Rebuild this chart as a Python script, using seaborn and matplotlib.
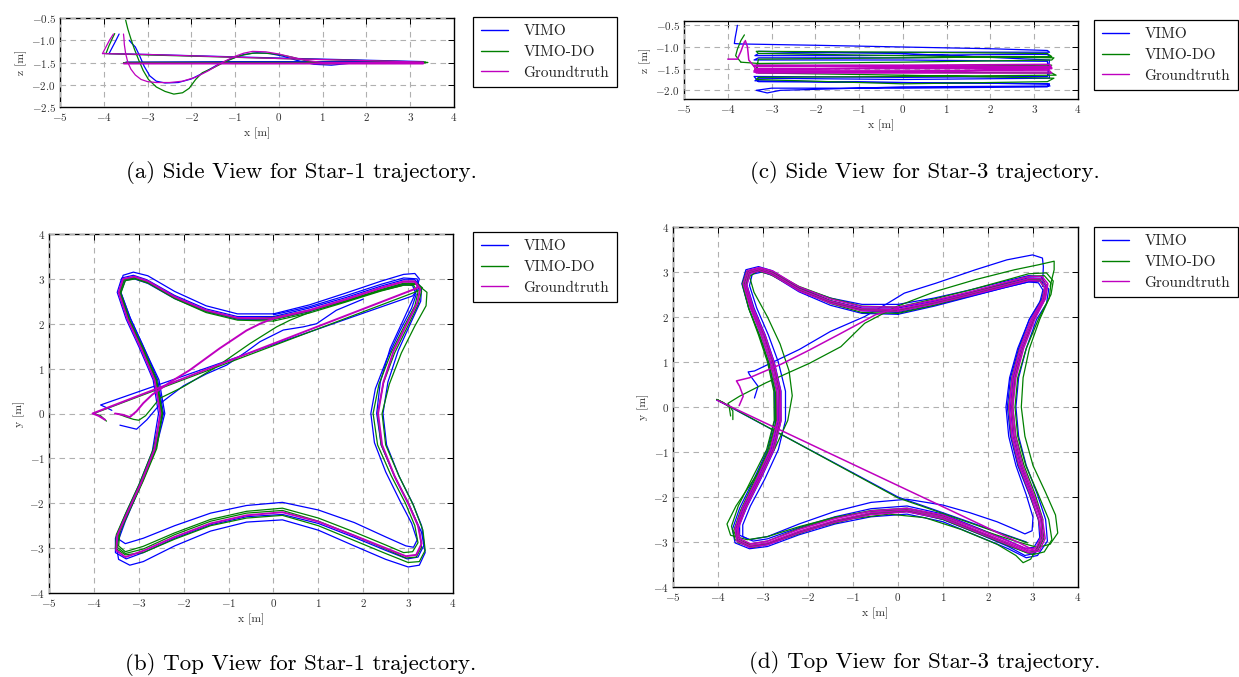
import matplotlib
matplotlib.use("Agg")
import matplotlib.pyplot as plt
from matplotlib.lines import Line2D
import pandas as pd
import seaborn as sns

SERIES = ["VIMO", "VIMO-DO", "Groundtruth"]
COLORS = {"VIMO": "#0000ff", "VIMO-DO": "#008000", "Groundtruth": "#bf00bf"}

# ---------------------------------------------------------------- Star-1, side view (x, z)
s1_side_vimo = [
    [(-3.42, -1.0), (-3.35, -1.08), (-3.28, -1.15), (-3.18, -1.35), (-3.08, -1.58), (-2.95, -1.8), (-2.8, -1.92),
     (-2.6, -1.96), (-2.3, -1.95), (-2.0, -1.87), (-1.7, -1.72), (-1.4, -1.55), (-1.1, -1.42), (-0.8, -1.32),
     (-0.5, -1.28), (-0.2, -1.3), (0.1, -1.36), (0.4, -1.45), (0.8, -1.54), (1.2, -1.56), (1.6, -1.52), (2.2, -1.5), (3.3, -1.5)],
    [(3.3, -1.5), (-3.5, -1.5), (3.3, -1.49), (-3.5, -1.5), (3.25, -1.49)],
    [(3.3, -1.48), (0.0, -1.4), (-3.0, -1.32), (-3.88, -1.3)],
    [(-3.88, -1.3), (-3.8, -1.15), (-3.72, -1.0), (-3.65, -0.86)],
]
s1_side_vimo_do = [
    [(-3.5, -0.55), (-3.45, -0.75), (-3.38, -0.97), (-3.3, -1.2), (-3.2, -1.45), (-3.1, -1.68), (-2.98, -1.88),
     (-2.8, -2.05), (-2.6, -2.15), (-2.4, -2.21), (-2.2, -2.18), (-2.05, -2.08), (-1.9, -1.88), (-1.75, -1.73),
     (-1.5, -1.62), (-1.2, -1.47), (-0.9, -1.35), (-0.6, -1.29), (-0.3, -1.29), (0.0, -1.32), (0.3, -1.38),
     (0.7, -1.48), (1.0, -1.53), (1.5, -1.52), (2.2, -1.5), (3.4, -1.5)],
    [(3.4, -1.5), (-3.55, -1.51), (3.35, -1.5), (-3.5, -1.5), (3.3, -1.5)],
    [(3.35, -1.49), (0.0, -1.41), (-3.0, -1.33), (-3.95, -1.3)],
    [(-3.95, -1.3), (-3.88, -1.12), (-3.8, -0.95), (-3.75, -0.85)],
]
s1_side_gt = [
    [(-3.55, -0.86), (-3.54, -0.95), (-3.53, -1.1), (-3.5, -1.3), (-3.45, -1.5), (-3.38, -1.65), (-3.28, -1.78),
     (-3.15, -1.88), (-3.0, -1.93), (-2.8, -1.95), (-2.5, -1.95), (-2.2, -1.92), (-1.9, -1.83), (-1.6, -1.68),
     (-1.3, -1.5), (-1.0, -1.36), (-0.8, -1.29), (-0.6, -1.25), (-0.3, -1.26), (0.0, -1.31), (0.3, -1.38),
     (0.6, -1.45), (1.0, -1.5), (3.3, -1.5)],
    [(3.3, -1.5), (-3.55, -1.5), (3.3, -1.5), (-3.55, -1.5), (3.3, -1.5)],
    [(3.3, -1.49), (0.0, -1.41), (-3.0, -1.32), (-4.03, -1.3)],
    [(-4.03, -1.3), (-3.95, -1.15), (-3.87, -1.0), (-3.78, -0.86)],
]

# ---------------------------------------------------------------- Star-3, side view (x, z)
s3_side_vimo = [
    [(-3.78, -0.5), (-3.8, -0.62), (-3.83, -0.78), (-3.85, -0.92), (-3.7, -0.93)],
    [(-3.7, -0.93), (-2.0, -0.96), (0.0, -1.0), (2.0, -1.04), (3.3, -1.08), (3.35, -1.12), (1.0, -1.12),
     (-1.5, -1.13), (-3.3, -1.15), (-3.38, -1.2), (-1.0, -1.2), (1.5, -1.18), (3.3, -1.17), (3.36, -1.22),
     (0.0, -1.25), (-3.3, -1.25), (-3.4, -1.3), (0.0, -1.3), (3.3, -1.33), (3.35, -1.72), (0.0, -1.75),
     (-3.3, -1.72), (-3.38, -1.78), (0.0, -1.82), (3.3, -1.85), (3.36, -1.9), (0.0, -1.92), (-2.8, -2.0),
     (-3.1, -2.06), (-3.35, -2.0), (-3.0, -1.95), (0.0, -1.95), (3.3, -1.92), (3.35, -1.85), (0.0, -1.82),
     (-3.3, -1.8), (-3.4, -1.68), (0.0, -1.7), (3.3, -1.68), (3.35, -1.3), (0.0, -1.15), (-3.3, -1.1)],
]
s3_side_vimo_do = [
    [(-3.62, -0.72), (-3.7, -0.85), (-3.78, -1.05), (-3.82, -1.2), (-3.7, -1.35)],
    [(-3.7, -1.35), (-3.3, -1.38), (0.0, -1.35), (3.4, -1.3), (3.45, -1.25), (0.0, -1.2), (-3.3, -1.15),
     (-3.35, -1.1), (0.0, -1.12), (3.3, -1.15), (3.4, -1.22), (0.0, -1.25), (-3.3, -1.28), (-3.35, -1.55),
     (0.0, -1.58), (3.4, -1.6), (3.5, -1.65), (0.0, -1.68), (-3.3, -1.7), (-3.35, -1.75), (-1.0, -1.82),
     (0.0, -1.85), (3.3, -1.8), (3.45, -1.72), (0.0, -1.65), (-3.3, -1.6), (-3.35, -1.42), (0.0, -1.45), (3.4, -1.42)],
]
s3_side_gt = [
    [(-4.0, -1.28), (-3.78, -1.28), (-3.7, -1.1), (-3.62, -0.88)],
    [(-3.6, -0.85), (-3.55, -1.0), (-3.52, -1.3), (-3.4, -1.45)],
    [(-3.4, -1.45), (0.0, -1.45), (3.35, -1.45), (3.4, -1.5), (0.0, -1.5), (-3.35, -1.5), (-3.4, -1.55),
     (0.0, -1.55), (3.35, -1.55), (3.4, -1.6), (0.0, -1.6), (-3.35, -1.6), (-3.4, -1.42), (0.0, -1.42),
     (3.35, -1.4), (3.4, -1.48), (0.0, -1.48), (-3.35, -1.52), (-3.4, -1.58), (0.0, -1.58), (3.35, -1.5)],
]

# ---------------------------------------------------------------- Star-1, top view (x, y)
s1_top_gt_takeoff = [(-3.53, 0.0), (-3.35, -0.03), (-3.2, -0.08), (-3.05, 0.05), (-2.9, 0.23), (-2.7, 0.42),
                     (-2.3, 0.7), (-1.86, 0.97), (-1.2, 1.45), (-0.6, 1.85), (-0.3, 2.0), (0.0, 2.12)]
s1_top_gt_lap = [
    (0.0, 2.12), (0.8, 2.3), (1.6, 2.54), (2.4, 2.8), (2.9, 2.94), (3.15, 2.94), (3.27, 2.78), (3.2, 2.45),
    (2.95, 1.95), (2.68, 1.4), (2.45, 0.7), (2.33, 0.0), (2.42, -0.7), (2.7, -1.4), (3.0, -2.0), (3.22, -2.5),
    (3.3, -2.9), (3.18, -3.15), (2.95, -3.18), (2.5, -3.0), (1.8, -2.72), (1.0, -2.41), (0.2, -2.2), (-0.6, -2.27),
    (-1.4, -2.45), (-2.2, -2.75), (-2.9, -3.06), (-3.3, -3.2), (-3.5, -3.05), (-3.48, -2.72), (-3.25, -2.2),
    (-2.95, -1.55), (-2.65, -0.8), (-2.52, 0.0), (-2.65, 0.75), (-2.95, 1.45), (-3.25, 2.1), (-3.45, 2.7),
    (-3.35, 3.0), (-3.1, 3.05), (-2.8, 2.95), (-2.2, 2.6), (-1.5, 2.3), (-0.8, 2.13), (0.0, 2.12)]
s1_top_gt_return = [(0.0, 2.12), (0.8, 2.3), (1.6, 2.54), (2.4, 2.8), (2.9, 2.94), (3.15, 2.94), (3.22, 2.82),
                    (3.19, 2.79), (-4.03, 0.0), (-3.9, -0.05), (-3.75, -0.14)]

s1_top_vimo_takeoff = [(-3.42, -0.26), (-3.05, -0.35), (-2.82, -0.14), (-2.6, 0.12), (-2.45, 0.28), (-2.0, 0.62),
                       (-1.5, 0.88), (-1.04, 1.08), (-0.6, 1.38), (-0.3, 1.6), (0.22, 1.86), (0.66, 1.93),
                       (0.96, 2.0), (1.4, 2.3), (2.0, 2.55)]
s1_top_vimo_lap1 = [
    (0.0, 2.22), (0.8, 2.42), (1.6, 2.68), (2.4, 2.95), (2.9, 3.1), (3.15, 3.12), (3.25, 3.0), (3.15, 2.65),
    (2.9, 2.1), (2.6, 1.45), (2.38, 0.7), (2.3, 0.0), (2.4, -0.7), (2.72, -1.45), (3.05, -2.1), (3.3, -2.65),
    (3.38, -3.1), (3.25, -3.38), (3.0, -3.42), (2.5, -3.25), (1.8, -2.95), (1.0, -2.6), (0.2, -2.37), (-0.6, -2.42),
    (-1.4, -2.62), (-2.2, -2.95), (-2.9, -3.3), (-3.2, -3.38), (-3.45, -3.25), (-3.5, -2.95), (-3.3, -2.4),
    (-3.0, -1.7), (-2.65, -0.85), (-2.45, 0.0), (-2.58, 0.75), (-2.9, 1.5), (-3.2, 2.15), (-3.42, 2.75),
    (-3.35, 3.08), (-3.12, 3.15), (-2.8, 3.07), (-2.2, 2.72), (-1.5, 2.4), (-0.8, 2.22), (0.0, 2.22)]
s1_top_vimo_lap2 = [
    (0.0, 2.1), (0.8, 2.27), (1.6, 2.5), (2.4, 2.75), (2.9, 2.88), (3.1, 2.85), (3.18, 2.65), (3.08, 2.35),
    (2.82, 1.85), (2.52, 1.2), (2.27, 0.55), (2.17, 0.0), (2.25, -0.65), (2.5, -1.3), (2.82, -1.95), (3.08, -2.45),
    (3.2, -2.82), (3.12, -2.98), (2.95, -2.95), (2.5, -2.75), (1.8, -2.43), (1.0, -2.15), (0.2, -1.98), (-0.6, -2.05),
    (-1.4, -2.22), (-2.2, -2.5), (-2.9, -2.78), (-3.3, -2.9), (-3.45, -2.8), (-3.38, -2.5), (-3.15, -2.0),
    (-2.88, -1.4), (-2.6, -0.7), (-2.42, 0.0), (-2.55, 0.75), (-2.88, 1.45), (-3.18, 2.1), (-3.4, 2.7),
    (-3.3, 2.97), (-3.1, 3.0), (-2.8, 2.9), (-2.2, 2.56), (-1.5, 2.27), (-0.8, 2.1), (0.0, 2.1)]
s1_top_vimo_lap3 = [
    (0.0, 2.16), (0.8, 2.35), (1.6, 2.58), (2.4, 2.84), (2.9, 2.98), (3.15, 2.98), (3.3, 2.8), (3.28, 2.5),
    (3.05, 2.0), (2.78, 1.4), (2.55, 0.7), (2.44, 0.0), (2.52, -0.7), (2.8, -1.4), (3.1, -2.0), (3.3, -2.5),
    (3.36, -2.92), (3.22, -3.2), (2.98, -3.24), (2.5, -3.05), (1.8, -2.76), (1.0, -2.45), (0.2, -2.25), (-0.6, -2.3),
    (-1.4, -2.48), (-2.2, -2.78), (-2.9, -3.1), (-3.28, -3.24), (-3.52, -3.1), (-3.52, -2.78), (-3.3, -2.25),
    (-3.0, -1.6), (-2.7, -0.85), (-2.56, 0.0), (-2.68, 0.75), (-2.98, 1.45), (-3.28, 2.1), (-3.48, 2.7),
    (-3.38, 3.02), (-3.12, 3.08), (-2.82, 2.98), (-2.2, 2.63), (-1.5, 2.33), (-0.8, 2.16), (0.0, 2.16)]
s1_top_vimo_return = [(0.0, 2.2), (0.8, 2.38), (1.6, 2.62), (2.4, 2.88), (2.9, 3.02), (3.2, 3.0), (3.25, 2.8),
                      (3.1, 2.62), (-3.85, 0.19), (-3.72, 0.13), (-3.6, 0.07)]

s1_top_vimo_do_takeoff = [(-3.48, 0.0), (-3.3, -0.07), (-3.12, -0.13), (-3.0, -0.15), (-2.85, -0.05), (-2.71, 0.12),
                          (-2.53, 0.34), (-2.2, 0.5), (-2.0, 0.6), (-1.27, 1.04), (-0.52, 1.56), (0.07, 1.93),
                          (0.37, 2.08), (0.8, 2.25)]
s1_top_vimo_do_lap1 = [
    (0.0, 2.06), (0.8, 2.24), (1.6, 2.48), (2.4, 2.73), (2.9, 2.86), (3.12, 2.86), (3.22, 2.7), (3.15, 2.4),
    (2.9, 1.92), (2.62, 1.35), (2.35, 0.65), (2.22, 0.0), (2.32, -0.7), (2.62, -1.38), (2.94, -2.0), (3.15, -2.5),
    (3.22, -2.88), (3.1, -3.08), (2.9, -3.1), (2.5, -2.93), (1.8, -2.64), (1.0, -2.33), (0.2, -2.11), (-0.6, -2.18),
    (-1.4, -2.36), (-2.2, -2.66), (-2.9, -2.96), (-3.3, -3.08), (-3.45, -2.95), (-3.42, -2.65), (-3.2, -2.15),
    (-2.9, -1.5), (-2.6, -0.78), (-2.47, 0.0), (-2.6, 0.75), (-2.9, 1.45), (-3.2, 2.08), (-3.4, 2.68),
    (-3.3, 2.96), (-3.08, 3.0), (-2.78, 2.9), (-2.2, 2.56), (-1.5, 2.25), (-0.8, 2.08), (0.0, 2.06)]
s1_top_vimo_do_lap2 = [
    (0.0, 2.14), (0.8, 2.3), (1.6, 2.52), (2.4, 2.74), (2.9, 2.86), (3.2, 2.88), (3.42, 2.7), (3.4, 2.4),
    (3.15, 1.95), (2.85, 1.35), (2.58, 0.65), (2.42, 0.0), (2.5, -0.7), (2.8, -1.4), (3.12, -2.05), (3.33, -2.6),
    (3.38, -3.05), (3.25, -3.3), (3.0, -3.32), (2.5, -3.12), (1.8, -2.83), (1.0, -2.5), (0.2, -2.27), (-0.6, -2.33),
    (-1.4, -2.5), (-2.2, -2.8), (-2.9, -3.1), (-3.3, -3.15), (-3.52, -3.0), (-3.5, -2.7), (-3.28, -2.2),
    (-2.98, -1.55), (-2.68, -0.8), (-2.5, 0.0), (-2.62, 0.75), (-2.92, 1.45), (-3.22, 2.08), (-3.43, 2.68),
    (-3.33, 2.98), (-3.1, 3.02), (-2.8, 2.92), (-2.2, 2.58), (-1.5, 2.28), (-0.8, 2.12), (0.0, 2.14)]
s1_top_vimo_do_lap3 = [
    (0.0, 2.1), (0.8, 2.28), (1.6, 2.5), (2.4, 2.76), (2.9, 2.9), (3.18, 2.9), (3.3, 2.72), (3.22, 2.42),
    (2.98, 1.92), (2.7, 1.35), (2.45, 0.68), (2.32, 0.0), (2.4, -0.7), (2.7, -1.4), (3.02, -2.02), (3.24, -2.55),
    (3.3, -2.98), (3.18, -3.2), (2.95, -3.22), (2.5, -3.02), (1.8, -2.72), (1.0, -2.4), (0.2, -2.16), (-0.6, -2.22),
    (-1.4, -2.4), (-2.2, -2.7), (-2.9, -3.02), (-3.3, -3.12), (-3.48, -2.98), (-3.45, -2.68), (-3.22, -2.18),
    (-2.92, -1.52), (-2.62, -0.78), (-2.48, 0.0), (-2.62, 0.75), (-2.92, 1.45), (-3.22, 2.1), (-3.42, 2.7),
    (-3.32, 3.0), (-3.08, 3.04), (-2.8, 2.94), (-2.2, 2.6), (-1.5, 2.28), (-0.8, 2.12), (0.0, 2.1)]
s1_top_vimo_do_return = [(0.0, 2.1), (0.8, 2.28), (1.6, 2.5), (2.4, 2.76), (2.9, 2.9), (3.2, 2.9), (3.32, 2.8),
                         (3.25, 2.74), (-4.0, 0.0), (-3.85, -0.05), (-3.72, -0.17)]

# ---------------------------------------------------------------- Star-3, top view (x, y)
s3_top_gt_takeoff = [(-3.53, 0.03), (-3.44, 0.24), (-3.52, 0.46), (-3.59, 0.58), (-3.3, 0.65), (-2.6, 0.95),
                     (-2.0, 1.25), (-1.3, 1.62), (-0.5, 2.05), (0.0, 2.2)]
s3_top_gt_lap1 = [
    (0.0, 2.17), (0.8, 2.33), (1.6, 2.52), (2.4, 2.72), (2.9, 2.85), (3.18, 2.85), (3.3, 2.7), (3.25, 2.4),
    (3.0, 1.95), (2.75, 1.3), (2.58, 0.65), (2.51, 0.0), (2.57, -0.65), (2.73, -1.3), (2.98, -1.95), (3.17, -2.5),
    (3.22, -2.9), (3.1, -3.17), (2.9, -3.2), (2.45, -3.02), (1.8, -2.76), (1.0, -2.44), (0.2, -2.29), (-0.6, -2.35),
    (-1.4, -2.52), (-2.2, -2.76), (-2.9, -3.02), (-3.3, -3.08), (-3.55, -2.95), (-3.58, -2.7), (-3.42, -2.25),
    (-3.1, -1.6), (-2.8, -0.95), (-2.64, -0.3), (-2.65, 0.35), (-2.8, 1.0), (-3.0, 1.6), (-3.25, 2.2),
    (-3.4, 2.72), (-3.32, 3.0), (-3.08, 3.07), (-2.8, 2.98), (-2.2, 2.62), (-1.5, 2.35), (-0.8, 2.18), (0.0, 2.17)]
s3_top_gt_lap2 = [
    (0.0, 2.22), (0.8, 2.37), (1.6, 2.56), (2.4, 2.77), (2.9, 2.9), (3.2, 2.9), (3.33, 2.74), (3.28, 2.42),
    (3.04, 1.95), (2.79, 1.3), (2.62, 0.65), (2.55, 0.0), (2.61, -0.65), (2.77, -1.3), (3.02, -1.95), (3.21, -2.5),
    (3.27, -2.92), (3.14, -3.2), (2.92, -3.24), (2.45, -3.06), (1.8, -2.8), (1.0, -2.48), (0.2, -2.33), (-0.6, -2.39),
    (-1.4, -2.56), (-2.2, -2.8), (-2.9, -3.06), (-3.3, -3.12), (-3.58, -2.98), (-3.62, -2.7), (-3.46, -2.25),
    (-3.14, -1.6), (-2.84, -0.95), (-2.68, -0.3), (-2.69, 0.35), (-2.84, 1.0), (-3.04, 1.6), (-3.28, 2.2),
    (-3.44, 2.74), (-3.35, 3.03), (-3.08, 3.1), (-2.78, 3.02), (-2.2, 2.67), (-1.5, 2.4), (-0.8, 2.23), (0.0, 2.22)]
s3_top_gt_lap3 = [
    (0.0, 2.13), (0.8, 2.29), (1.6, 2.48), (2.4, 2.68), (2.9, 2.81), (3.15, 2.8), (3.26, 2.66), (3.21, 2.38),
    (2.96, 1.95), (2.71, 1.3), (2.54, 0.65), (2.47, 0.0), (2.53, -0.65), (2.69, -1.3), (2.94, -1.95), (3.13, -2.5),
    (3.18, -2.88), (3.07, -3.13), (2.88, -3.16), (2.45, -2.98), (1.8, -2.72), (1.0, -2.4), (0.2, -2.25), (-0.6, -2.31),
    (-1.4, -2.48), (-2.2, -2.72), (-2.9, -2.98), (-3.28, -3.04), (-3.52, -2.92), (-3.55, -2.7), (-3.38, -2.25),
    (-3.06, -1.6), (-2.76, -0.95), (-2.6, -0.3), (-2.61, 0.35), (-2.76, 1.0), (-2.96, 1.6), (-3.22, 2.2),
    (-3.36, 2.7), (-3.29, 2.97), (-3.08, 3.03), (-2.82, 2.95), (-2.2, 2.58), (-1.5, 2.31), (-0.8, 2.14), (0.0, 2.13)]
s3_top_gt_return = [(3.05, -3.2), (2.7, -3.02), (-4.02, 0.15)]

s3_top_vimo_takeoff = [(-3.19, 0.2), (-3.11, 0.46), (-3.3, 0.72), (-3.33, 0.78), (-3.19, 0.8), (-2.19, 1.28),
                       (-1.5, 1.68), (-0.74, 2.01), (-0.22, 2.31), (0.14, 2.53), (0.84, 2.75), (1.72, 3.05),
                       (2.42, 3.27), (2.99, 3.38), (3.21, 3.31), (3.23, 3.12), (3.21, 2.68)]
s3_top_vimo_lap1 = [
    (0.0, 2.28), (0.8, 2.42), (1.6, 2.6), (2.4, 2.8), (2.9, 2.92), (3.18, 2.9), (3.28, 2.72), (3.2, 2.42),
    (2.92, 1.95), (2.66, 1.3), (2.48, 0.65), (2.4, 0.0), (2.46, -0.65), (2.62, -1.3), (2.85, -1.95), (3.0, -2.45),
    (2.98, -2.75), (2.82, -2.82), (2.6, -2.72), (2.2, -2.55), (1.6, -2.35), (1.0, -2.18), (0.2, -2.05), (-0.6, -2.12),
    (-1.4, -2.32), (-2.2, -2.6), (-2.9, -2.88), (-3.3, -2.95), (-3.52, -2.85), (-3.52, -2.6), (-3.35, -2.2),
    (-3.05, -1.6), (-2.75, -0.95), (-2.6, -0.3), (-2.6, 0.35), (-2.75, 1.0), (-2.95, 1.6), (-3.2, 2.2),
    (-3.36, 2.72), (-3.28, 2.98), (-3.05, 3.03), (-2.78, 2.95), (-2.2, 2.66), (-1.5, 2.42), (-0.8, 2.28), (0.0, 2.28)]
s3_top_vimo_lap2 = [
    (0.0, 2.1), (0.8, 2.26), (1.6, 2.46), (2.4, 2.66), (2.9, 2.78), (3.2, 2.8), (3.35, 2.62), (3.3, 2.3),
    (3.08, 1.95), (2.85, 1.3), (2.68, 0.65), (2.62, 0.0), (2.68, -0.65), (2.85, -1.3), (3.1, -1.95), (3.28, -2.5),
    (3.32, -2.98), (3.1, -3.3), (2.85, -3.35), (2.45, -3.15), (1.8, -2.88), (1.0, -2.55), (0.2, -2.38), (-0.6, -2.44),
    (-1.4, -2.6), (-2.2, -2.84), (-2.9, -3.1), (-3.3, -3.15), (-3.62, -3.02), (-3.68, -2.72), (-3.52, -2.25),
    (-3.2, -1.6), (-2.9, -0.95), (-2.74, -0.3), (-2.74, 0.35), (-2.88, 1.0), (-3.08, 1.6), (-3.32, 2.2),
    (-3.47, 2.74), (-3.38, 3.05), (-3.1, 3.12), (-2.8, 3.03), (-2.2, 2.66), (-1.5, 2.36), (-0.8, 2.14), (0.0, 2.1)]
s3_top_vimo_lap3 = [
    (0.0, 2.06), (0.8, 2.24), (1.6, 2.45), (2.4, 2.66), (2.9, 2.78), (3.12, 2.76), (3.22, 2.6), (3.15, 2.32),
    (2.92, 1.95), (2.68, 1.3), (2.5, 0.65), (2.43, 0.0), (2.5, -0.65), (2.66, -1.3), (2.92, -1.95), (3.12, -2.5),
    (3.15, -2.9), (3.02, -3.12), (2.82, -3.14), (2.4, -2.95), (1.8, -2.7), (1.0, -2.38), (0.2, -2.2), (-0.6, -2.26),
    (-1.4, -2.44), (-2.2, -2.68), (-2.9, -2.93), (-3.22, -2.98), (-3.45, -2.88), (-3.45, -2.62), (-3.28, -2.2),
    (-2.96, -1.6), (-2.66, -0.95), (-2.5, -0.3), (-2.5, 0.35), (-2.66, 1.0), (-2.88, 1.6), (-3.14, 2.2),
    (-3.3, 2.7), (-3.24, 2.95), (-3.02, 3.0), (-2.78, 2.92), (-2.2, 2.56), (-1.5, 2.26), (-0.8, 2.08), (0.0, 2.06)]
s3_top_vimo_lap4 = [
    (0.0, 2.2), (0.8, 2.35), (1.6, 2.54), (2.4, 2.74), (2.9, 2.87), (3.2, 2.86), (3.3, 2.68), (3.24, 2.4),
    (3.0, 1.95), (2.74, 1.3), (2.56, 0.65), (2.5, 0.0), (2.56, -0.65), (2.72, -1.3), (2.97, -1.95), (3.18, -2.5),
    (3.2, -2.95), (3.05, -3.25), (2.82, -3.3), (2.45, -3.1), (1.8, -2.82), (1.0, -2.5), (0.2, -2.32), (-0.6, -2.38),
    (-1.4, -2.56), (-2.2, -2.8), (-2.9, -3.06), (-3.28, -3.12), (-3.56, -2.98), (-3.6, -2.7), (-3.44, -2.25),
    (-3.12, -1.6), (-2.82, -0.95), (-2.66, -0.3), (-2.66, 0.35), (-2.8, 1.0), (-3.0, 1.6), (-3.25, 2.2),
    (-3.4, 2.72), (-3.31, 3.0), (-3.06, 3.06), (-2.8, 2.97), (-2.2, 2.62), (-1.5, 2.36), (-0.8, 2.2), (0.0, 2.2)]
s3_top_vimo_return = [(2.85, -3.0), (0.0, -2.0), (-4.03, 0.16), (-3.9, 0.1), (-3.8, 0.05)]

s3_top_vimo_do_takeoff = [(-3.67, -0.28), (-3.67, -0.09), (-3.78, 0.08), (-3.52, 0.24), (-2.93, 0.54),
                          (-1.97, 0.97), (-1.27, 1.34), (-0.74, 1.86), (-0.04, 2.23), (0.84, 2.57), (1.72, 2.83),
                          (2.59, 3.05), (3.12, 3.16), (3.47, 3.24), (3.47, 3.05), (3.38, 2.68)]
s3_top_vimo_do_lap1 = [
    (0.0, 2.12), (0.8, 2.3), (1.6, 2.5), (2.4, 2.72), (2.9, 2.84), (3.2, 2.84), (3.32, 2.68), (3.26, 2.38),
    (3.02, 1.95), (2.76, 1.3), (2.58, 0.65), (2.52, 0.0), (2.58, -0.65), (2.74, -1.3), (2.99, -1.95), (3.19, -2.5),
    (3.24, -2.92), (3.1, -3.2), (2.88, -3.24), (2.45, -3.05), (1.8, -2.78), (1.0, -2.45), (0.2, -2.28), (-0.6, -2.32),
    (-1.4, -2.45), (-2.2, -2.66), (-2.9, -2.88), (-3.35, -2.95), (-3.72, -2.85), (-3.8, -2.6), (-3.6, -2.2),
    (-3.2, -1.6), (-2.75, -0.95), (-2.45, -0.3), (-2.35, 0.25), (-2.42, 0.8), (-2.62, 1.4), (-2.9, 2.0),
    (-3.2, 2.55), (-3.3, 2.9), (-3.12, 3.02), (-2.85, 2.95), (-2.2, 2.6), (-1.5, 2.32), (-0.8, 2.15), (0.0, 2.12)]
s3_top_vimo_do_lap2 = [
    (0.0, 2.15), (0.8, 2.32), (1.6, 2.53), (2.4, 2.76), (2.9, 2.9), (3.25, 2.92), (3.4, 2.75), (3.36, 2.42),
    (3.15, 1.95), (2.92, 1.3), (2.78, 0.65), (2.74, 0.0), (2.82, -0.65), (3.0, -1.3), (3.28, -1.9), (3.5, -2.4),
    (3.55, -2.8), (3.38, -3.05), (3.1, -3.12), (2.6, -2.98), (1.9, -2.75), (1.0, -2.42), (0.2, -2.25), (-0.6, -2.3),
    (-1.4, -2.46), (-2.2, -2.7), (-2.9, -2.98), (-3.3, -3.05), (-3.58, -2.94), (-3.62, -2.68), (-3.46, -2.25),
    (-3.15, -1.6), (-2.86, -0.95), (-2.7, -0.3), (-2.7, 0.35), (-2.84, 1.0), (-3.04, 1.6), (-3.27, 2.2),
    (-3.42, 2.72), (-3.33, 3.0), (-3.08, 3.06), (-2.8, 2.98), (-2.2, 2.64), (-1.5, 2.36), (-0.8, 2.18), (0.0, 2.15)]
s3_top_vimo_do_lap3 = [
    (0.0, 2.08), (0.8, 2.26), (1.6, 2.48), (2.4, 2.7), (2.9, 2.82), (3.15, 2.8), (3.28, 2.62), (3.22, 2.32),
    (3.0, 1.95), (2.76, 1.3), (2.6, 0.65), (2.55, 0.0), (2.62, -0.65), (2.8, -1.3), (3.05, -1.95), (3.22, -2.5),
    (3.15, -3.0), (2.95, -3.38), (2.78, -3.46), (2.62, -3.3), (2.2, -3.05), (1.4, -2.72), (0.6, -2.46), (-0.2, -2.38),
    (-1.0, -2.48), (-1.8, -2.68), (-2.6, -2.95), (-3.2, -3.12), (-3.55, -3.02), (-3.65, -2.75), (-3.5, -2.3),
    (-3.2, -1.65), (-2.9, -1.0), (-2.72, -0.35), (-2.72, 0.3), (-2.86, 0.95), (-3.06, 1.55), (-3.3, 2.15),
    (-3.45, 2.7), (-3.36, 3.0), (-3.1, 3.07), (-2.82, 2.98), (-2.2, 2.6), (-1.5, 2.3), (-0.8, 2.1), (0.0, 2.08)]
s3_top_vimo_do_lap4 = [
    (0.0, 2.22), (0.8, 2.4), (1.6, 2.6), (2.4, 2.82), (2.9, 2.96), (3.3, 2.98), (3.45, 2.8), (3.4, 2.5),
    (3.12, 1.95), (2.85, 1.3), (2.66, 0.65), (2.6, 0.0), (2.66, -0.65), (2.84, -1.3), (3.12, -1.95), (3.35, -2.5),
    (3.42, -2.95), (3.25, -3.22), (3.0, -3.28), (2.5, -3.1), (1.8, -2.82), (1.0, -2.5), (0.2, -2.3), (-0.6, -2.36),
    (-1.4, -2.54), (-2.2, -2.78), (-2.9, -3.04), (-3.3, -3.1), (-3.62, -2.95), (-3.7, -2.65), (-3.55, -2.2),
    (-3.25, -1.6), (-2.92, -0.95), (-2.75, -0.3), (-2.76, 0.35), (-2.9, 1.0), (-3.1, 1.6), (-3.32, 2.2),
    (-3.46, 2.74), (-3.36, 3.02), (-3.1, 3.08), (-2.8, 3.0), (-2.2, 2.68), (-1.5, 2.42), (-0.8, 2.24), (0.0, 2.22)]
s3_top_vimo_do_lap5 = [
    (0.0, 2.14), (0.8, 2.3), (1.6, 2.5), (2.4, 2.7), (2.9, 2.82), (3.15, 2.82), (3.26, 2.66), (3.2, 2.38),
    (2.96, 1.95), (2.7, 1.3), (2.53, 0.65), (2.46, 0.0), (2.52, -0.65), (2.68, -1.3), (2.93, -1.95), (3.12, -2.5),
    (3.2, -2.95), (3.08, -3.2), (2.86, -3.24), (2.42, -3.06), (1.8, -2.8), (1.0, -2.48), (0.2, -2.32), (-0.6, -2.38),
    (-1.4, -2.55), (-2.2, -2.8), (-2.9, -3.04), (-3.28, -3.08), (-3.52, -2.95), (-3.56, -2.7), (-3.4, -2.25),
    (-3.08, -1.6), (-2.78, -0.95), (-2.62, -0.3), (-2.63, 0.35), (-2.78, 1.0), (-2.98, 1.6), (-3.22, 2.2),
    (-3.38, 2.72), (-3.3, 2.99), (-3.07, 3.05), (-2.8, 2.96), (-2.2, 2.6), (-1.5, 2.33), (-0.8, 2.16), (0.0, 2.14)]
s3_top_vimo_do_return = [(2.88, -3.02), (0.0, -2.02), (-4.03, 0.17), (-3.88, 0.1), (-3.75, 0.0), (-3.72, -0.2)]

# ---------------------------------------------------------------- grouping per panel
side_star1 = {"VIMO": s1_side_vimo, "VIMO-DO": s1_side_vimo_do, "Groundtruth": s1_side_gt}
side_star3 = {"VIMO": s3_side_vimo, "VIMO-DO": s3_side_vimo_do, "Groundtruth": s3_side_gt}
top_star1 = {
    "VIMO": [s1_top_vimo_takeoff, s1_top_vimo_lap1, s1_top_vimo_lap2, s1_top_vimo_lap3, s1_top_vimo_return],
    "VIMO-DO": [s1_top_vimo_do_takeoff, s1_top_vimo_do_lap1, s1_top_vimo_do_lap2, s1_top_vimo_do_lap3,
                s1_top_vimo_do_return],
    "Groundtruth": [s1_top_gt_takeoff, s1_top_gt_lap, s1_top_gt_return],
}
top_star3 = {
    "VIMO": [s3_top_vimo_takeoff, s3_top_vimo_lap1, s3_top_vimo_lap2, s3_top_vimo_lap3, s3_top_vimo_lap4,
             s3_top_vimo_return],
    "VIMO-DO": [s3_top_vimo_do_takeoff, s3_top_vimo_do_lap1, s3_top_vimo_do_lap2, s3_top_vimo_do_lap3,
                s3_top_vimo_do_lap4, s3_top_vimo_do_lap5, s3_top_vimo_do_return],
    "Groundtruth": [s3_top_gt_takeoff, s3_top_gt_lap1, s3_top_gt_lap2, s3_top_gt_lap3, s3_top_gt_return],
}


def to_frame(tracks):
    rows = []
    for series, segments in tracks.items():
        for k, seg in enumerate(segments):
            for i, (x, y) in enumerate(seg):
                rows.append({"series": series, "seg": f"{series}#{k}", "order": i, "x": x, "y": y})
    return pd.DataFrame(rows)


def draw_tracks(ax, tracks, widths):
    df = to_frame(tracks)
    for s in SERIES:
        sub = df[df["series"] == s]
        sns.lineplot(data=sub, x="x", y="y", units="seg", estimator=None, sort=False,
                     color=COLORS[s], linewidth=widths[s], ax=ax, legend=False)
    for ln in ax.get_lines():
        ln.set_solid_joinstyle("round")


def style_axes(ax, ylim, yticks, ylabel):
    ax.set_xlim(-5, 4)
    ax.set_ylim(*ylim)
    ax.set_xticks(range(-5, 5))
    ax.set_yticks(yticks)
    ax.grid(True, linestyle=(0, (5, 4)), color="#b0b0b0", linewidth=0.8)
    ax.set_axisbelow(True)
    for sp in ax.spines.values():
        sp.set_visible(True)
        sp.set_color("black")
        sp.set_linewidth(1.0)
        sp.set_zorder(0.2)
    ax.tick_params(direction="in", top=True, right=True, length=4, width=0.7,
                   labelsize=8, pad=3, colors="black", labelcolor="#333333")
    ax.set_xlabel("x [m]", fontsize=8.5, color="#333333", labelpad=3)
    ax.set_ylabel(ylabel, fontsize=8.5, color="#333333", labelpad=3)


def add_legend(ax, fig, x_px, y_px):
    handles = [Line2D([], [], color=COLORS[s], linewidth=1.0) for s in SERIES]
    leg = ax.legend(handles, SERIES, loc="upper left",
                    bbox_to_anchor=(x_px / W, 1 - y_px / H), bbox_transform=fig.transFigure,
                    frameon=True, fancybox=False, framealpha=1, edgecolor="black",
                    fontsize=11, handlelength=1.8, handletextpad=1.0,
                    borderpad=0.5, labelspacing=0.45, borderaxespad=0)
    leg.get_frame().set_linewidth(0.9)
    for t in leg.get_texts():
        t.set_color("#222222")


sns.set_style("white")
plt.rcParams["font.family"] = ["cmr10"]
plt.rcParams["mathtext.fontset"] = "cm"
plt.rcParams["axes.formatter.use_mathtext"] = True
plt.rcParams["axes.unicode_minus"] = True

W, H = 1239, 677
fig = plt.figure(figsize=(W / 100, H / 100), dpi=100)


def axes_px(left, top, right, bottom):
    return fig.add_axes([left / W, 1 - bottom / H, (right - left) / W, (bottom - top) / H])


ax_a = axes_px(60, 18, 454, 107)
ax_b = axes_px(49, 234, 453, 593)
ax_c = axes_px(684, 21, 1078, 99)
ax_d = axes_px(673, 227, 1078, 587)

draw_tracks(ax_a, side_star1, {"VIMO": 0.9, "VIMO-DO": 0.9, "Groundtruth": 0.9})
draw_tracks(ax_c, side_star3, {"VIMO": 0.9, "VIMO-DO": 0.9, "Groundtruth": 1.1})
draw_tracks(ax_b, top_star1, {"VIMO": 0.9, "VIMO-DO": 0.9, "Groundtruth": 1.4})
draw_tracks(ax_d, top_star3, {"VIMO": 0.9, "VIMO-DO": 0.9, "Groundtruth": 1.1})

style_axes(ax_a, (-2.5, -0.5), [-2.5, -2.0, -1.5, -1.0, -0.5], "z [m]")
style_axes(ax_c, (-2.2, -0.4), [-2.0, -1.5, -1.0, -0.5], "z [m]")
style_axes(ax_b, (-4, 4), range(-4, 5), "y [m]")
style_axes(ax_d, (-4, 4), range(-4, 5), "y [m]")

add_legend(ax_a, fig, 473, 17)
add_legend(ax_b, fig, 473, 232)
add_legend(ax_c, fig, 1094, 20)
add_legend(ax_d, fig, 1094, 227)

captions = [
    (301, 173, "(a) Side View for Star-1 trajectory."),
    (925, 173, "(c) Side View for Star-3 trajectory."),
    (301, 665, "(b) Top View for Star-1 trajectory."),
    (925, 662, "(d) Top View for Star-3 trajectory."),
]
for cx, cy, text in captions:
    fig.text(cx / W, 1 - cy / H, text, ha="center", va="center", fontsize=16.5, color="black")

fig.savefig("out.png", dpi=100)
